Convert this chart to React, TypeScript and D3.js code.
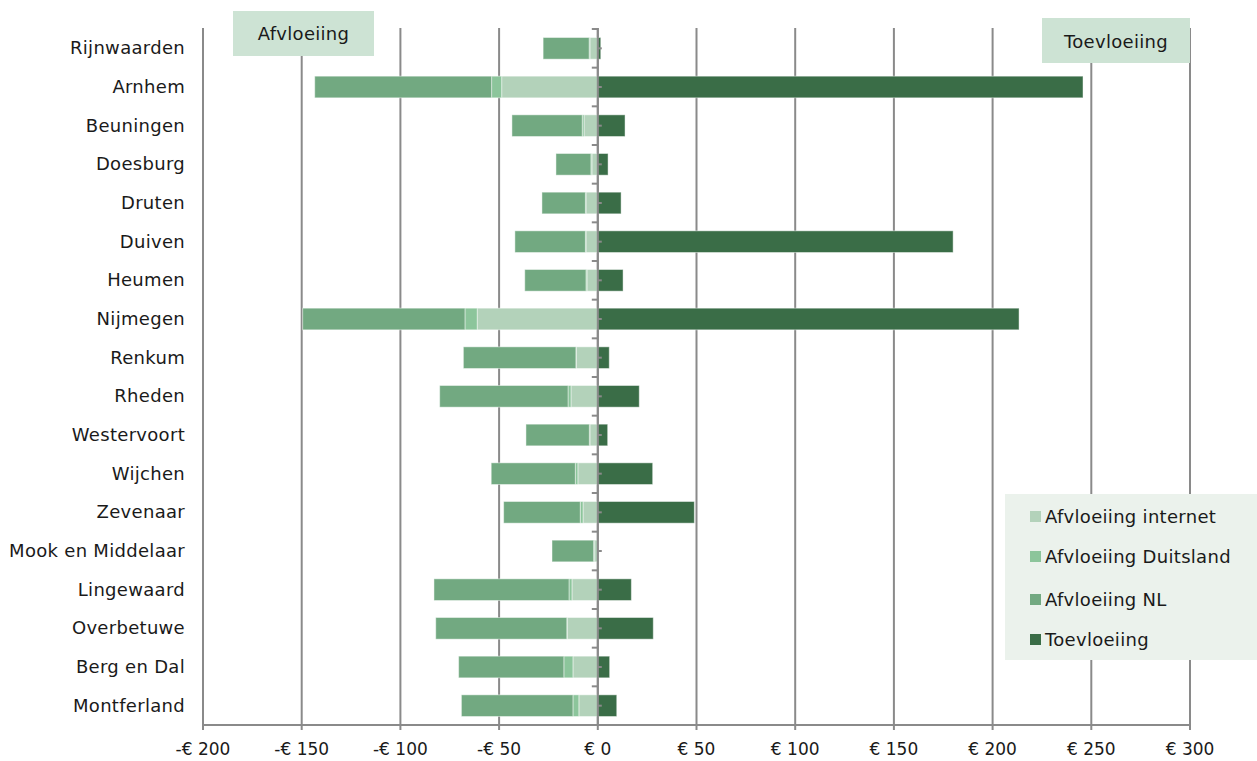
import React from "react";
import * as d3 from "d3";

const categories = [
  "Rijnwaarden", "Arnhem", "Beuningen", "Doesburg", "Druten", "Duiven", "Heumen",
  "Nijmegen", "Renkum", "Rheden", "Westervoort", "Wijchen", "Zevenaar",
  "Mook en Middelaar", "Lingewaard", "Overbetuwe", "Berg en Dal", "Montferland",
];
const afvloeiingInternet = [4, 48.7, 7, 3, 6, 6, 5.5, 61.1, 10.9, 13.6, 4, 10.1, 7.5, 1.6, 13.1, 15.5, 12.6, 9.6];
const afvloeiingDuitsland = [0.4, 5.1, 0.9, 0.5, 0.3, 0.3, 0.5, 6.2, 0.2, 1.5, 0.3, 1.3, 1.4, 0.5, 1.5, 0.2, 4.6, 3];
const afvloeiingNL = [23.3, 89.6, 35.6, 17.7, 22, 35.7, 31, 82.2, 57, 65, 32.1, 42.6, 38.8, 21.1, 68.4, 66.4, 53.3, 56.5];
const toevloeiing = [1.5, 245.8, 13.8, 5.2, 11.8, 180, 12.8, 213.4, 5.8, 21, 5, 27.8, 48.9, 0, 17, 28.1, 6, 9.6];
const xTicks = [-200, -150, -100, -50, 0, 50, 100, 150, 200, 250, 300];

const seriesNames = ["Afvloeiing internet", "Afvloeiing Duitsland", "Afvloeiing NL", "Toevloeiing"];
const colors = ["#b3d2ba", "#8cc59b", "#72a981", "#3a6d47"];

const W = 1257;
const H = 761;
const FONT = "'DejaVu Sans', Verdana, sans-serif";
const LS = 0.3;

export default function App() {
  const x = d3.scaleLinear().domain([-200, 300]).range([203, 1190]);
  const y = d3.scaleBand<string>().domain(categories).range([29, 725]).paddingInner(0.44).paddingOuter(0.22);
  const band = (725 - 29) / categories.length;
  const x0 = x(0);

  const fmt = (v: number) => (v < 0 ? "-€ " + Math.abs(v) : "€ " + v);

  const bars: React.ReactNode[] = [];
  categories.forEach((c, i) => {
    const yy = y(c)!;
    const h = y.bandwidth();
    let acc = 0;
    const parts = [afvloeiingInternet[i], afvloeiingDuitsland[i], afvloeiingNL[i]];
    parts.forEach((v, k) => {
      const a = acc;
      const b = acc + v;
      acc = b;
      if (v <= 0) return;
      bars.push(
        <rect key={`l${i}-${k}`} x={x(-b)} y={yy} width={x(-a) - x(-b)} height={h}
          fill={colors[k]} stroke="#ffffff" strokeOpacity={0.45} strokeWidth={1} />
      );
    });
    if (toevloeiing[i] > 0) {
      bars.push(
        <rect key={`r${i}`} x={x0} y={yy} width={x(toevloeiing[i]) - x0} height={h}
          fill={colors[3]} stroke="#ffffff" strokeOpacity={0.45} strokeWidth={1} />
      );
    }
  });

  const legendY = [517, 557, 600, 640];

  return (
    <svg width={W} height={H} style={{ position: "absolute", left: 0, top: 0, fontFamily: FONT }}>
      <rect x={0} y={0} width={W} height={H} fill="#ffffff" />
      {/* gridlines */}
      {xTicks.map((t) => (
        <line key={`g${t}`} x1={x(t)} x2={x(t)} y1={28} y2={725} stroke="#8a8a8a" strokeWidth={2} />
      ))}
      {/* label boxes */}
      <rect x={233} y={11} width={141} height={45} fill="#cde3d4" />
      <text x={303.5} y={40} textAnchor="middle" fontSize={18} letterSpacing={LS} fill="#1a1a1a">Afvloeiing</text>
      <rect x={1042} y={18} width={148} height={45} fill="#cde3d4" />
      <text x={1116} y={48} textAnchor="middle" fontSize={18} letterSpacing={LS} fill="#1a1a1a">Toevloeiing</text>

      {bars}

      {/* y axis */}
      <line x1={x0} x2={x0} y1={28} y2={725} stroke="#8a8a8a" strokeWidth={2} />
      {d3.range(categories.length + 1).map((k) => (
        <line key={`bt${k}`} x1={x0 - 6} x2={x0} y1={29 + k * band} y2={29 + k * band} stroke="#8a8a8a" strokeWidth={2} />
      ))}
      {categories.map((c) => (
        <line key={`ct${c}`} x1={x0} x2={x0 + 4} y1={y(c)! + y.bandwidth() / 2} y2={y(c)! + y.bandwidth() / 2}
          stroke="#8a8a8a" strokeWidth={2} />
      ))}
      {/* x axis */}
      <line x1={203} x2={1190} y1={725} y2={725} stroke="#8a8a8a" strokeWidth={2} />
      {xTicks.map((t) => (
        <g key={`xt${t}`}>
          <line x1={x(t)} x2={x(t)} y1={725} y2={730} stroke="#8a8a8a" strokeWidth={2} />
          <text x={x(t)} y={755} textAnchor="middle" fontSize={17} fill="#1a1a1a">{fmt(t)}</text>
        </g>
      ))}
      {/* category labels */}
      {categories.map((c) => (
        <text key={`cl${c}`} x={185} y={y(c)! + y.bandwidth() / 2 + 6} textAnchor="end" fontSize={18} letterSpacing={LS} fill="#1a1a1a">{c}</text>
      ))}
      {/* legend */}
      <rect x={1005} y={494} width={252} height={166} fill="#ebf2ec" />
      {seriesNames.map((s, k) => (
        <g key={`lg${k}`}>
          <rect x={1030} y={legendY[k] - 6} width={11} height={11} fill={colors[k]} />
          <text x={1045} y={legendY[k] + 6} fontSize={18} letterSpacing={LS} fill="#1a1a1a">{s}</text>
        </g>
      ))}
    </svg>
  );
}
